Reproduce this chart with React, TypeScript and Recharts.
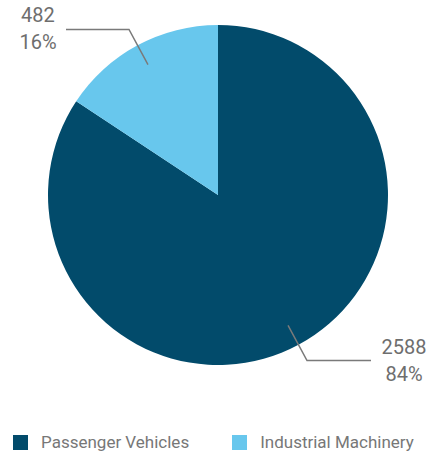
import { Legend, Pie, PieChart, Cell } from "recharts";

const categories = ["Passenger Vehicles", "Industrial Machinery"];
const values = [2588, 482];
const colors = ["#024b6b", "#68c7ed"];

const data = categories.map((name, i) => ({ name, value: values[i] }));
const total = values.reduce((a, b) => a + b, 0);

const RAD = Math.PI / 180;

function renderLabel(props: any) {
  const { cx, cy, midAngle, outerRadius, value } = props;
  const cos = Math.cos(-midAngle * RAD);
  const sin = Math.sin(-midAngle * RAD);
  const sx = cx + outerRadius * 0.87 * cos;
  const sy = cy + outerRadius * 0.87 * sin;
  const mx = cx + (outerRadius + 18) * cos;
  const my = cy + (outerRadius + 18) * sin;
  const right = cos >= 0;
  const ex = mx + (right ? 64 : -63);
  const tx = right ? ex + 33 : ex - 28;
  const pct = Math.round((value / total) * 100);
  return (
    <g>
      <polyline points={`${sx},${sy} ${mx},${my} ${ex},${my}`} fill="none" stroke="#7a7a7a" strokeWidth={1.5} />
      <text x={tx} y={my - 7} textAnchor="middle" fill="#6e6e6e" fontSize={20} fontFamily="Roboto, sans-serif">
        {value}
      </text>
      <text x={tx} y={my + 20} textAnchor="middle" fill="#6e6e6e" fontSize={20} fontFamily="Roboto, sans-serif">
        {pct}%
      </text>
    </g>
  );
}

function renderLegend() {
  return (
    <div style={{ display: "flex", fontFamily: "Roboto, sans-serif", fontSize: 17, color: "#777" }}>
      {categories.map((c, i) => (
        <div key={c} style={{ display: "flex", alignItems: "center", marginLeft: i === 0 ? 13 : 43 }}>
          <span style={{ width: 15, height: 15, background: colors[i], display: "inline-block", marginRight: 13 }} />
          <span>{c}</span>
        </div>
      ))}
    </div>
  );
}

export default function App() {
  return (
    <div style={{ position: "absolute", left: 0, top: 0 }}>
      <PieChart width={435} height={452} margin={{ top: 0, right: 0, bottom: 0, left: 0 }}>
        <Pie
          data={data}
          dataKey="value"
          nameKey="name"
          cx={218}
          cy={195}
          outerRadius={170}
          startAngle={90}
          endAngle={-270}
          stroke="none"
          label={renderLabel}
          labelLine={false}
          isAnimationActive={false}
        >
          {data.map((_, i) => (
            <Cell key={i} fill={colors[i]} />
          ))}
        </Pie>
        <Legend content={renderLegend} verticalAlign="bottom" align="left" wrapperStyle={{ left: 0, bottom: 0 }} />
      </PieChart>
    </div>
  );
}
